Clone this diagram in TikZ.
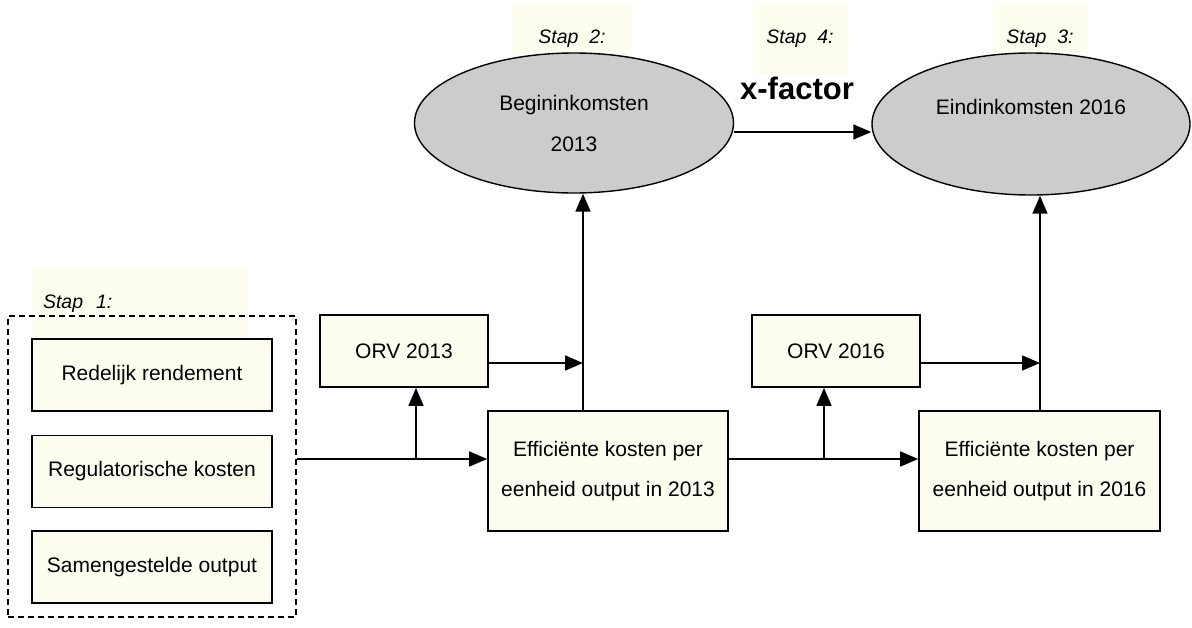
\documentclass[tikz,border=0pt]{standalone}
\usepackage{fontspec}
\setmainfont{Liberation Sans}
\usepackage{xcolor}
\usepackage{tikz}
\usetikzlibrary{calc}
\usetikzlibrary{arrows.meta}
\usetikzlibrary{shapes}
\usetikzlibrary{positioning}
\usetikzlibrary{shapes.geometric}

\definecolor{cream}{HTML}{FEFEF0}
\definecolor{ovalgrey}{HTML}{CCCCCC}

\tikzset{
  box/.style={rectangle, draw=black, line width=1.7pt, fill=cream, align=center,
    inner sep=0pt, font=\fontsize{21}{40}\selectfont},
  oval/.style={ellipse, draw=black, line width=1.4pt, fill=ovalgrey, align=center,
    inner sep=0pt, font=\fontsize{21}{41}\selectfont},
  stapnote/.style={rectangle, fill=cream, inner sep=0pt, minimum height=72pt,
    font=\fontsize{19.5}{21}\selectfont\itshape},
  flow/.style={line width=1.7pt, -{Triangle[length=18pt, width=15pt]}},
}

\begin{document}
\begin{tikzpicture}[x=1pt, y=-1pt]
\useasboundingbox (0, 0) rectangle (1192, 627);

% step labels
\node [stapnote, minimum width=120pt] (s2) at (572, 39) {Stap\ \ 2:};
\node [stapnote, minimum width=95pt] (s4) at (800, 39) {Stap\ \ 4:};
\node [stapnote, minimum width=95pt] (s3) at (1040, 39) {Stap\ \ 3:};
\node [stapnote, text width=194pt, inner xsep=11pt, align=left] (s1) at (140, 304) {Stap\ \ 1:};

% incomes
\node [oval, minimum width=319pt, minimum height=140pt] (beg) at (574, 123) {Begininkomsten\\2013};
\node [oval, minimum width=318pt, minimum height=142pt] (eind) at (1031, 124) {Eindinkomsten 2016\\[-20pt]\strut};
\node [font=\fontsize{31}{31}\selectfont\bfseries] (xf) at (797, 88) {x-factor};

% inputs
\node [rectangle, draw=black, dashed, dash pattern=on 6pt off 4pt, line width=1.3pt,
  minimum width=288pt, minimum height=301pt] (grp) at (152, 466.5) {};
\node [box, minimum width=240pt, minimum height=72pt] (rend) at (152, 375) {Redelijk rendement};
\node [box, minimum width=240pt, minimum height=72pt] (reg) at (152, 471.5) {Regulatorische kosten};
\node [box, minimum width=240pt, minimum height=72pt] (out) at (152, 567) {Samengestelde output};

% costs and ORV
\node [box, minimum width=168pt, minimum height=72pt] (orv13) at (404, 351) {ORV 2013};
\node [box, minimum width=168pt, minimum height=72pt] (orv16) at (836, 351) {ORV 2016};
\node [box, minimum width=240pt, minimum height=120pt] (eff13) at (608, 471) {Efficiënte kosten per\\eenheid output in 2013};
\node [box, minimum width=241pt, minimum height=120pt] (eff16) at (1039.5, 471) {Efficiënte kosten per\\eenheid output in 2016};

\coordinate (sp13) at (416, 459);
\coordinate (sp16) at (824, 459);
\coordinate (jn13) at (583, 363);
\coordinate (jn16) at (1040, 363);
\coordinate (xa) at (800, 132);

\draw [line width=1.7pt] (grp.east |- sp13) to (sp13);
\draw [flow] (sp13) to (sp13 -| eff13.west);
\draw [flow] (sp13) to (sp13 |- orv13.south);
\draw [flow] (orv13.east |- jn13) to (jn13);
\draw [flow] (eff13.north -| jn13) to (beg.south -| jn13);

\draw [line width=1.7pt] (eff13.east |- sp16) to (sp16);
\draw [flow] (sp16) to (sp16 -| eff16.west);
\draw [flow] (sp16) to (sp16 |- orv16.south);
\draw [flow] (orv16.east |- jn16) to (jn16);
\draw [flow] (eff16.north -| jn16) to (eind.south -| jn16);

\draw [flow] (xa -| beg.east) to (xa -| eind.west);
\end{tikzpicture}
\end{document}
